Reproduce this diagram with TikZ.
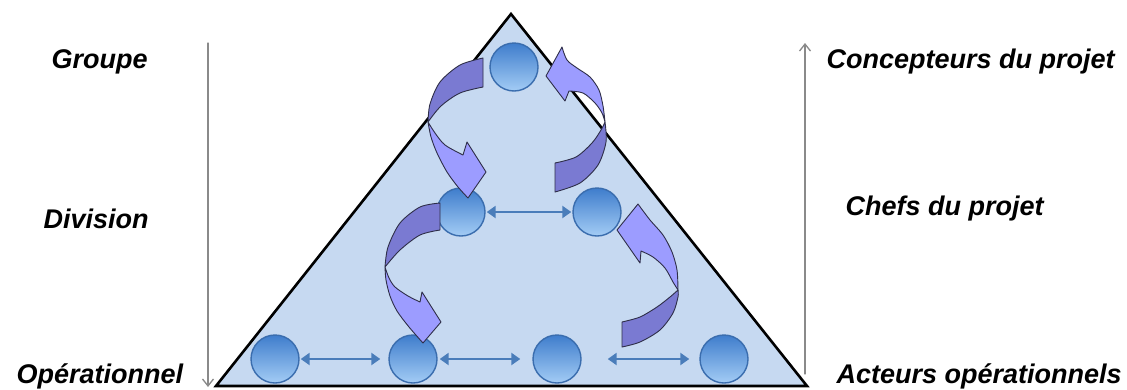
\documentclass[tikz,border=0pt]{standalone}
\usepackage{fontspec}
\setmainfont{Liberation Sans}
\usetikzlibrary{arrows.meta,calc,positioning}
\definecolor{pyrFill}{HTML}{C6D9F1}
\definecolor{pyrBallTop}{HTML}{3F7DCC}
\definecolor{pyrBallBot}{HTML}{A3CCF5}
\definecolor{pyrBallEdge}{HTML}{3A6DAE}
\definecolor{pyrLink}{HTML}{4A7DBA}
\definecolor{pyrBack}{HTML}{7A7AD2}
\definecolor{pyrFront}{HTML}{9C9CFF}
\definecolor{pyrEdge}{HTML}{2E2E48}
\definecolor{pyrAxis}{HTML}{8A8A8A}

\begin{document}
\begin{tikzpicture}[x=1pt,y=-1pt,>=Latex,line cap=round,line join=round]
\useasboundingbox[fill=white] (0,0) rectangle (1127,389);
\tikzset{ball/.style={circle,minimum size=48pt,inner sep=0pt,draw=pyrBallEdge,line width=1.4pt,top color=pyrBallTop,bottom color=pyrBallBot},
  link/.style={draw=pyrLink,line width=2.8pt,{Triangle[length=9pt,width=12pt]}-{Triangle[length=9pt,width=12pt]}},
  axis/.style={draw=pyrAxis,line width=1.3pt},
  tag/.style={anchor=base west,font=\fontsize{27}{30}\selectfont\bfseries\itshape},
  backpiece/.style={fill=pyrBack,draw=pyrEdge,line width=0.9pt},
  frontpiece/.style={fill=pyrFront,draw=pyrEdge,line width=0.9pt}}
% pyramid
\path[fill=pyrFill,draw=black,line width=2.6pt,line join=miter] (511,14) -- (807,386) -- (216,386) -- cycle;
% levels
\node[ball] (top) at (514,67) {};
\node[ball] (midL) at (461,212) {};
\node[ball] (midR) at (597,212) {};
\node[ball] (botA) at (275,359) {};
\node[ball] (botB) at (413,359) {};
\node[ball] (botC) at (557,359) {};
\node[ball] (botD) at (724,359) {};
\draw[link,shorten <=1pt,shorten >=1pt] (midL) -- (midR);
\draw[link,shorten <=1pt,shorten >=8pt] (botA) -- (botB);
\draw[link,shorten <=2pt,shorten >=12pt] (botB) -- (botC);
\draw[link,shorten <=26pt,shorten >=10pt] (botC) -- (botD);
% curved arrows
\filldraw[backpiece] (483,58) -- plot[smooth] coordinates {(483,87) (460,93) (441,106) (428,122)}
  -- plot[smooth] coordinates {(428,122) (430,104) (440,82) (460,65) (483,58)} -- cycle;
\filldraw[frontpiece] plot[smooth] coordinates {(428,122) (431,137) (437,153) (447,172) (458,187) (468,198)}
  -- (486,172) -- (467,142) -- (463,155) -- plot[smooth] coordinates {(463,155) (445,145) (435,133) (428,122)} -- cycle;
\filldraw[backpiece] (555,163) -- plot[smooth] coordinates {(555,192) (580,183) (598,165) (606,142) (605,122)}
  -- plot[smooth] coordinates {(605,122) (601,130) (592,143) (576,157) (555,163)} -- cycle;
\filldraw[frontpiece] plot[smooth] coordinates {(605,122) (603,106) (599,90) (590,77) (577,68) (567,60) (562,47)}
  -- (546,76) -- (565,101) -- (569,91) -- plot[smooth] coordinates {(569,91) (583,93) (595,103) (602,113) (605,122)} -- cycle;
\filldraw[backpiece] (440,203) -- plot[smooth] coordinates {(440,230) (420,235) (400,250) (385,267)}
  -- plot[smooth] coordinates {(385,267) (388,247) (400,223) (420,207) (440,203)} -- cycle;
\filldraw[frontpiece] plot[smooth] coordinates {(385,267) (386,280) (390,296) (397,311) (409,327) (423,343)}
  -- (441,322) -- (422,292) -- (420,302) -- plot[smooth] coordinates {(420,302) (408,296) (395,287) (389,278) (385,267)} -- cycle;
\filldraw[backpiece] (622,322) -- plot[smooth] coordinates {(622,347) (640,342) (660,330) (673,313) (678,297) (678,290)}
  -- plot[smooth] coordinates {(678,290) (670,297) (657,307) (640,317) (622,322)} -- cycle;
\filldraw[frontpiece] plot[smooth] coordinates {(678,290) (677,270) (672,252) (663,235) (650,220) (638,204)}
  -- (617,230) -- (640,263) -- (641,251) -- plot[smooth] coordinates {(641,251) (653,257) (665,268) (673,282) (678,290)} -- cycle;
% side scales
\coordinate (leftTop) at (208,43);
\coordinate (leftBot) at (208,387);
\coordinate (rightBot) at (805,374);
\coordinate (rightTop) at (805,43);
\draw[axis,-{Straight Barb[length=7pt,width=11pt]}] (leftTop) -- (leftBot);
\draw[axis,-{Straight Barb[length=7pt,width=11pt]}] (rightBot) -- (rightTop);
\node[tag] (groupe) at (48,68) {Groupe};
\node[tag] (division) at (40,228) {Division};
\node[tag] (operationnel) at (13,383) {Opérationnel};
\node[tag] (concepteurs) at (823,68) {Concepteurs du projet};
\node[tag] (chefs) at (842,215) {Chefs du projet};
\node[tag] (acteurs) at (833,383) {Acteurs opérationnels};
\end{tikzpicture}
\end{document}
